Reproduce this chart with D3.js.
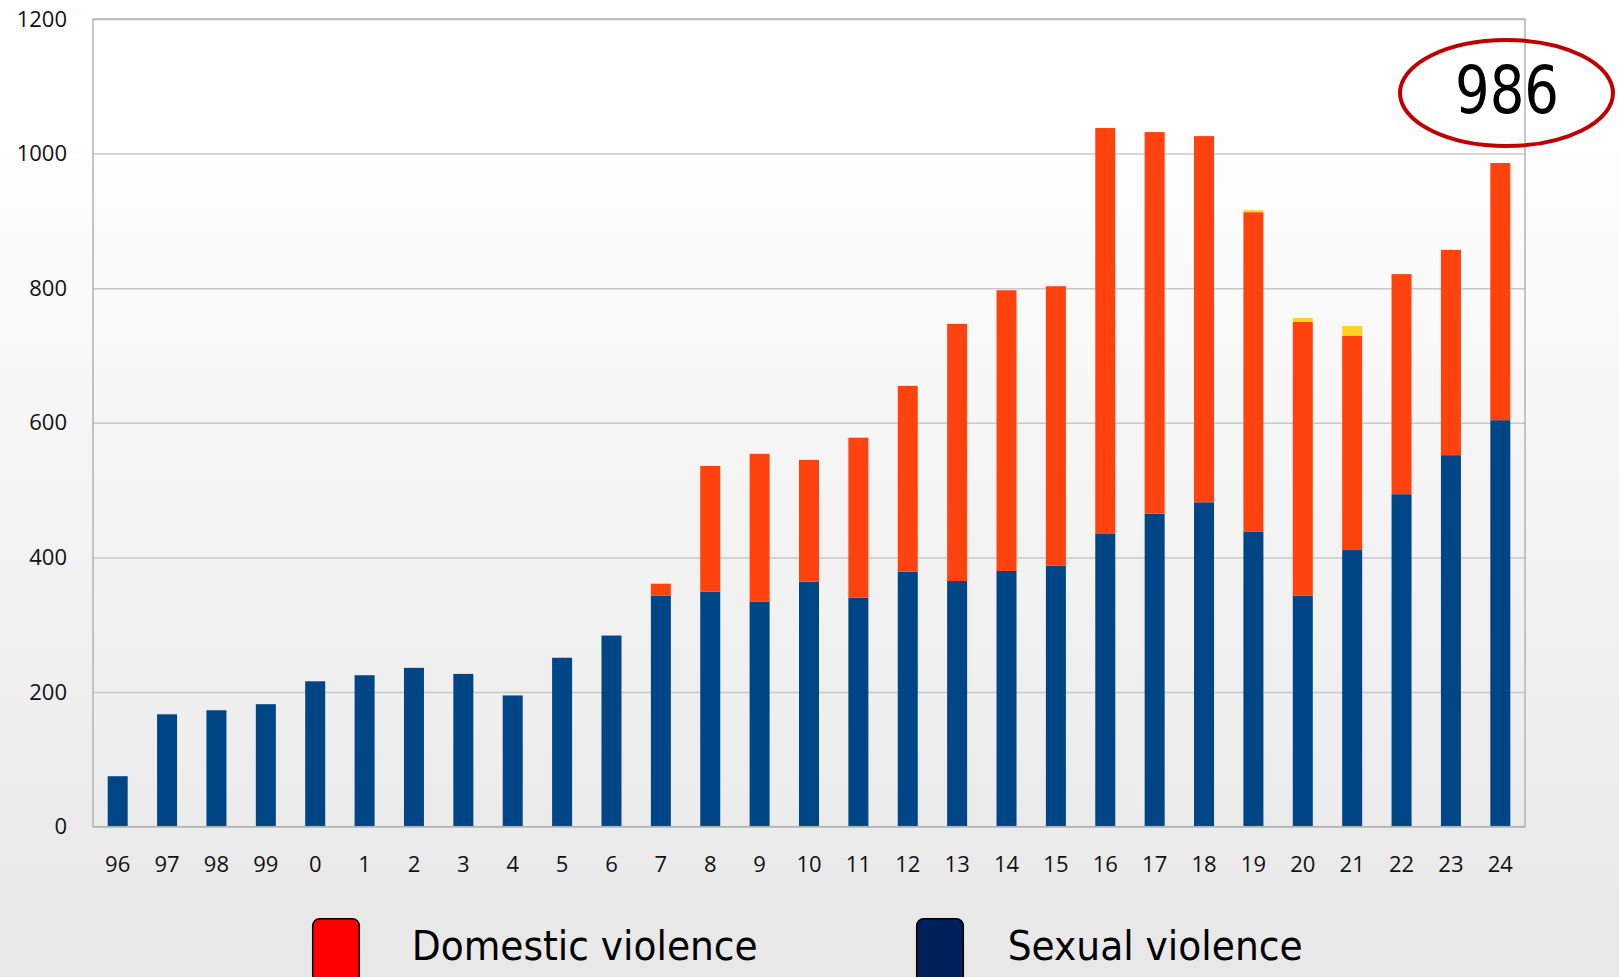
<!DOCTYPE html>
<html>
<head>
<meta charset="utf-8">
<script src="https://cdn.jsdelivr.net/npm/d3@7"></script>
<style>
  body { margin: 0; padding: 0; overflow: hidden; }
  svg { display: block; }
  .tick text { font-family: "Open Sans", sans-serif; font-size: 22px; fill: #111; }
</style>
</head>
<body>
<div id="chart"></div>
<script>
// years (two-digit)
var years = ["96", "97", "98", "99", "0", "1", "2", "3", "4", "5", "6", "7", "8", "9", "10",
             "11", "12", "13", "14", "15", "16", "17", "18", "19", "20", "21", "22", "23", "24"];

var sexual   = [75, 167, 173, 182, 216, 225, 236, 227, 195, 251, 284, 343, 349, 334, 364,
                340, 379, 365, 380, 388, 435, 465, 482, 438, 343, 411, 494, 552, 604];
var domestic = [0, 0, 0, 0, 0, 0, 0, 0, 0, 0, 0, 18, 187, 220, 181,
                238, 276, 382, 417, 415, 603, 567, 544, 475, 407, 318, 327, 305, 382];
var other    = [0, 0, 0, 0, 0, 0, 0, 0, 0, 0, 0, 0, 0, 0, 0,
                0, 0, 0, 0, 0, 0, 0, 0, 3, 6, 15, 0, 0, 0];

var y_ticks = [0, 200, 400, 600, 800, 1000, 1200];
var highlight = "986";
var legend_labels = ["Domestic violence", "Sexual violence"];

var keys = ["sexual", "domestic", "other"];
var colors = { sexual: "#004586", domestic: "#ff420e", other: "#ffd320" };
var legend_colors = ["#ff0000", "#00205b"];

function draw_chart(wrapper)
{
  var W = 1619, H = 977;
  var left = 93, right = 1525, top = 19, bottom = 826.7;

  var svg = d3.select(wrapper).append("svg")
    .attr("width", W)
    .attr("height", H);

  // background gradient
  var grad = svg.append("defs").append("linearGradient")
    .attr("id", "bg")
    .attr("gradientUnits", "userSpaceOnUse")
    .attr("x1", 0).attr("y1", 100)
    .attr("x2", 0).attr("y2", H);
  grad.append("stop").attr("offset", "0%").attr("stop-color", "#ffffff");
  grad.append("stop").attr("offset", "100%").attr("stop-color", "#e7e7e7");

  svg.append("rect")
    .attr("width", W)
    .attr("height", H)
    .attr("fill", "url(#bg)");

  var table = years.map(function (y, i) {
    return { year: y, sexual: sexual[i], domestic: domestic[i], other: other[i] };
  });

  var scalex = d3.scaleBand().domain(years).range([left, right]).paddingInner(0.595).paddingOuter(0.2975);
  var scaley = d3.scaleLinear().domain([0, 1200]).range([bottom, top]);

  // y axis + grid
  var y_axis = d3.axisLeft(scaley)
    .tickValues(y_ticks)
    .tickFormat(d3.format("d"))
    .tickSize(-(right - left))
    .tickPadding(26);

  var gy = svg.append("g")
    .attr("class", "y_axis")
    .attr("transform", "translate(" + left + ",0)")
    .call(y_axis);
  gy.select(".domain").remove();
  gy.selectAll(".tick line")
    .attr("stroke", "#c8c8c8")
    .attr("stroke-width", 1.5);

  // bars
  var series = d3.stack().keys(keys)(table);

  svg.append("g")
    .selectAll("g")
    .data(series)
    .enter()
    .append("g")
      .attr("fill", function (d) { return colors[d.key]; })
    .selectAll("rect")
    .data(function (d) { return d; })
    .enter()
    .append("rect")
      .attr("x", function (d) { return scalex(d.data.year); })
      .attr("y", function (d) { return scaley(d[1]); })
      .attr("width", scalex.bandwidth())
      .attr("height", function (d) { return scaley(d[0]) - scaley(d[1]); });

  // frame
  svg.append("rect")
    .attr("x", left)
    .attr("y", top)
    .attr("width", right - left)
    .attr("height", bottom - top)
    .attr("fill", "none")
    .attr("stroke", "#b3b3b3")
    .attr("stroke-width", 1.5);

  // x axis labels
  var x_axis = d3.axisBottom(scalex).tickSize(0).tickPadding(30);
  var gx = svg.append("g")
    .attr("class", "x_axis")
    .attr("transform", "translate(0," + bottom + ")")
    .call(x_axis);
  gx.select(".domain").remove();

  // highlighted total
  svg.append("ellipse")
    .attr("cx", 1506.5)
    .attr("cy", 93)
    .attr("rx", 106.5)
    .attr("ry", 53)
    .attr("fill", "none")
    .attr("stroke", "#c00000")
    .attr("stroke-width", 4);

  svg.append("text")
    .attr("x", 1507)
    .attr("y", 113)
    .attr("text-anchor", "middle")
    .attr("font-family", "DejaVu Sans Condensed, DejaVu Sans, sans-serif")
    .attr("font-size", 66)
    .attr("textLength", 104)
    .attr("lengthAdjust", "spacingAndGlyphs")
    .attr("fill", "#000")
    .text(highlight);

  // legend
  var legend_x = [[312.7, 411.7, 346], [916.7, 1007.7, 295]];
  legend_labels.forEach(function (lab, i) {
    svg.append("rect")
      .attr("x", legend_x[i][0])
      .attr("y", 918.7)
      .attr("width", 46.6)
      .attr("height", 80)
      .attr("rx", 7)
      .attr("fill", legend_colors[i])
      .attr("stroke", "#000")
      .attr("stroke-width", 1.5);

    svg.append("text")
      .attr("x", legend_x[i][1])
      .attr("y", 960)
      .attr("font-family", "DejaVu Sans Condensed, DejaVu Sans, sans-serif")
      .attr("font-size", 41)
      .attr("textLength", legend_x[i][2])
      .attr("lengthAdjust", "spacingAndGlyphs")
      .attr("fill", "#000")
      .text(lab);
  });
}

draw_chart("#chart");
</script>
</body>
</html>
